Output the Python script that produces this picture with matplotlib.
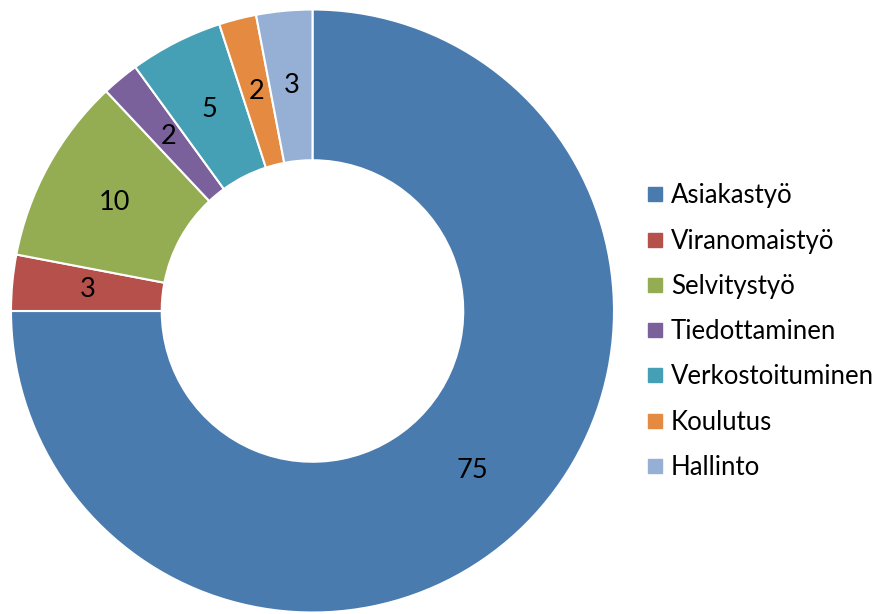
import matplotlib
matplotlib.use("Agg")
import matplotlib.pyplot as plt
from matplotlib.lines import Line2D
import numpy as np

categories = ["Asiakastyö", "Viranomaistyö", "Selvitystyö", "Tiedottaminen",
              "Verkostoituminen", "Koulutus", "Hallinto"]
values = [75, 3, 10, 2, 5, 2, 3]
colors = ["#4A7BAF", "#B5504B", "#94AD53", "#7B619B", "#45A0B5", "#E58A41", "#95B0D4"]

plt.rcParams['font.family'] = ['Lato', 'DejaVu Sans']

fig = plt.figure(figsize=(8.75, 6.14), dpi=100)
W, H = 875, 614
cx, cy, R = 312.5, 311, 301.5
ax = fig.add_axes([(cx - R) / W, (H - cy - R) / H, 2 * R / W, 2 * R / H])
wedges, texts = ax.pie(values, colors=colors, startangle=90, counterclock=False,
                       radius=1.0, wedgeprops=dict(width=0.5, edgecolor="white", linewidth=1.5))
for w, v in zip(wedges, values):
    ang = np.deg2rad((w.theta1 + w.theta2) / 2)
    r = 0.75
    ax.text(r * np.cos(ang), r * np.sin(ang), str(v), ha="center", va="center",
            fontsize=19.5, color="black")
ax.set_xlim(-1, 1)
ax.set_ylim(-1, 1)
ax.set_aspect("equal")
ax.axis("off")

handles = [Line2D([0], [0], marker="s", linestyle="none", markersize=10,
                  markerfacecolor=c, markeredgecolor=c) for c in colors]
fig.legend(handles, categories, loc="upper left", bbox_to_anchor=(636 / W, 1 - 173 / H),
           frameon=False, fontsize=18.5, handlelength=0.7, handletextpad=0.25,
           labelspacing=0.79, borderaxespad=0)

fig.savefig("out.png", dpi=100)
